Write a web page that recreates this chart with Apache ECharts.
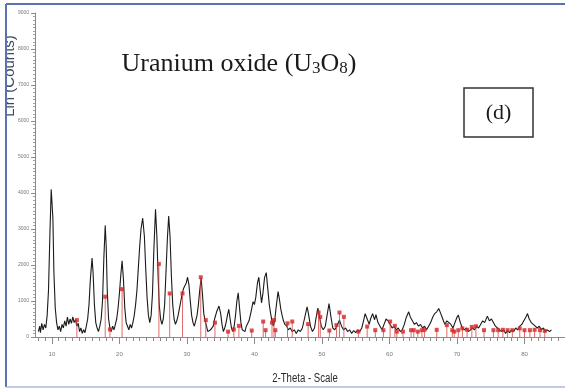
<!DOCTYPE html>
<html>
<head>
<meta charset="utf-8">
<script src="https://cdn.jsdelivr.net/npm/echarts@6/dist/echarts.min.js"></script>
<style>
  html, body { margin: 0; padding: 0; background: #fff; }
  #chart { width: 565px; height: 389px; }
</style>
</head>
<body>
<div id="chart"></div>
<script>
// Measured XRD pattern: 2-theta (deg) and intensity (counts)
const twoTheta = [
  8.0, 8.2, 8.3, 8.5, 8.7, 8.9, 9.1, 9.3, 9.5, 9.7, 9.9, 10.0, 10.15, 10.3, 10.5, 10.7, 10.9,
  11.1, 11.3, 11.5, 11.7, 11.9, 12.1, 12.3, 12.5, 12.7, 12.9, 13.1, 13.3, 13.5, 13.7, 13.9,
  14.1, 14.3, 14.5, 14.7, 14.9, 15.1, 15.3, 15.5, 15.7, 15.95, 16.1, 16.3, 16.5, 16.7, 16.9,
  17.1, 17.3, 17.5, 17.7, 17.9, 18.05, 18.2, 18.4, 18.6, 18.8, 19.0, 19.2, 19.4, 19.6, 19.8,
  20.0, 20.2, 20.4, 20.6, 20.8, 21.0, 21.2, 21.4, 21.6, 21.8, 22.0, 22.2, 22.4, 22.6, 22.8,
  23.0, 23.2, 23.45, 23.7, 23.9, 24.1, 24.3, 24.5, 24.7, 24.9, 25.1, 25.35, 25.55, 25.75, 25.9,
  26.1, 26.3, 26.5, 26.7, 26.9, 27.1, 27.3, 27.5, 27.7, 27.9, 28.1, 28.3, 28.5, 28.7, 28.9,
  29.1, 29.3, 29.5, 29.7, 29.9, 30.1, 30.3, 30.5, 30.7, 30.9, 31.1, 31.3, 31.5, 31.7, 31.9,
  32.1, 32.3, 32.5, 32.7, 32.9, 33.1, 33.3, 33.5, 33.7, 33.9, 34.1, 34.4, 34.75, 35.0, 35.2,
  35.4, 35.6, 35.8, 36.0, 36.2, 36.4, 36.6, 36.8, 37.0, 37.2, 37.4, 37.6, 37.8, 38.0, 38.2,
  38.4, 38.6, 38.8, 39.0, 39.2, 39.5, 39.8, 40.0, 40.2, 40.45, 40.65, 40.85, 41.05, 41.25, 41.5,
  41.75, 41.95, 42.2, 42.4, 42.6, 42.8, 43.0, 43.2, 43.5, 43.7, 43.9, 44.1, 44.3, 44.5, 44.8,
  45.0, 45.3, 45.6, 45.9, 46.2, 46.5, 46.8, 47.1, 47.4, 47.8, 48.0, 48.3, 48.6, 48.9, 49.1,
  49.4, 49.6, 49.9, 50.2, 50.5, 50.8, 51.05, 51.3, 51.6, 51.9, 52.2, 52.6, 52.9, 53.2, 53.5,
  53.8, 54.1, 54.4, 54.7, 55.0, 55.3, 55.6, 55.9, 56.1, 56.4, 56.7, 57.0, 57.2, 57.5, 57.8,
  58.0, 58.3, 58.6, 58.9, 59.2, 59.5, 59.8, 60.1, 60.4, 60.7, 61.0, 61.3, 61.6, 61.9, 62.2,
  62.5, 62.85, 63.1, 63.4, 63.7, 64.0, 64.3, 64.6, 64.9, 65.2, 65.5, 65.8, 66.1, 66.4, 66.7,
  67.0, 67.3, 67.6, 67.9, 68.2, 68.5, 68.8, 69.1, 69.4, 69.7, 70.0, 70.2, 70.5, 70.8, 71.1,
  71.4, 71.7, 72.0, 72.3, 72.6, 72.9, 73.2, 73.5, 73.8, 74.1, 74.5, 74.8, 75.1, 75.4, 75.7,
  76.0, 76.3, 76.6, 76.9, 77.2, 77.5, 77.8, 78.1, 78.4, 78.7, 79.0, 79.3, 79.6, 79.9, 80.2,
  80.45, 80.7, 81.0, 81.3, 81.6, 81.9, 82.2, 82.5, 82.8, 83.1, 83.4, 83.7, 84.0
];
const counts = [
  150, 300, 120, 380, 200, 350, 250, 600, 1300, 2800, 4100, 4130, 3300, 1800, 800, 400, 200,
  300, 150, 350, 250, 450, 300, 550, 350, 500, 380, 560, 400, 480, 300, 380,
  150, 250, 100, 200, 120, 300, 500, 900, 1600, 2190, 1800, 900, 400, 250, 150,
  300, 500, 1000, 2200, 3100, 2500, 1300, 500, 250, 150, 300, 200, 350, 500, 800,
  1200, 1700, 2120, 1600, 800, 400, 300, 200, 350, 250, 400, 600, 900, 1300, 1900,
  2500, 3000, 3300, 2800, 1900, 1100, 600, 400, 600, 1200, 2400, 3550, 2800, 1600, 900,
  500, 350, 500, 900, 1800, 2700, 3360, 2800, 1700, 900, 500, 350, 450, 600, 800,
  1000, 1200, 1350, 1300, 1500, 1660, 1450, 1000, 600, 400, 300, 450, 600, 900, 1300,
  1640, 1200, 650, 450, 300, 150, 100, 200, 150, 300, 500, 700, 860, 650, 350,
  150, 250, 400, 600, 770, 500, 250, 150, 300, 600, 1000, 1230, 800, 400, 200,
  250, 150, 300, 250, 450, 700, 980, 900, 1100, 1500, 1660, 1300, 950, 1200, 1650,
  1790, 1400, 900, 650, 450, 300, 450, 800, 1260, 1050, 780, 600, 450, 350, 300,
  200, 250, 150, 200, 100, 200, 150, 250, 500, 840, 650, 300, 150, 250, 500,
  800, 600, 300, 200, 300, 650, 930, 600, 250, 200, 300, 470, 300, 200, 250,
  150, 200, 100, 180, 120, 200, 150, 250, 400, 650, 500, 350, 500, 650, 480,
  620, 400, 300, 200, 350, 500, 450, 350, 250, 300, 200, 250, 150, 200, 350,
  550, 700, 550, 450, 350, 400, 300, 350, 250, 300, 200, 300, 400, 550, 650,
  700, 790, 650, 500, 350, 450, 400, 350, 250, 400, 550, 610, 400, 250, 200,
  250, 150, 200, 250, 200, 300, 250, 350, 450, 400, 580, 450, 500, 400, 300,
  250, 200, 150, 200, 100, 180, 120, 200, 150, 250, 200, 300, 350, 450, 550,
  650, 500, 400, 350, 300, 250, 300, 200, 250, 150, 200, 150, 200
];

// Reference U3O8 stick pattern
const refTheta = [
  13.7, 17.9, 18.6, 20.4, 25.85, 27.45, 29.35, 32.05, 32.8, 34.15, 36.1, 36.95, 37.7, 39.6,
  41.3, 41.65, 42.6, 42.9, 43.1, 44.9, 45.6, 47.95, 49.5, 49.75, 51.1, 52.15, 52.6, 53.25,
  55.4, 56.7, 57.9, 59.1, 60.1, 60.8, 61.1, 62.0, 63.2, 63.6, 64.2, 64.8, 65.2, 67.0, 68.5,
  69.3, 69.6, 70.2, 70.8, 71.5, 72.2, 72.8, 74.0, 75.4, 76.1, 76.8, 77.5, 78.2, 79.3, 80.0,
  80.8, 81.5, 82.3, 83.0
];
const refIntensity = [
  470, 1120, 210, 1330, 2030, 1210, 1210, 1660, 470, 400, 150, 210, 310, 180,
  430, 190, 400, 470, 190, 380, 430, 360, 680, 560, 180, 330, 680, 560,
  150, 290, 190, 190, 430, 310, 150, 150, 190, 190, 150, 190, 200, 200, 330,
  190, 150, 190, 240, 200, 280, 300, 190, 190, 190, 200, 190, 190, 240, 190,
  190, 200, 190, 170
];

// Axis ticks
const xMajorTicks = [10, 20, 30, 40, 50, 60, 70, 80];
const xMinorTicks = [8, 9, 11, 12, 13, 14, 15, 16, 17, 18, 19, 21, 22, 23, 24, 25, 26, 27, 28, 29,
  31, 32, 33, 34, 35, 36, 37, 38, 39, 41, 42, 43, 44, 45, 46, 47, 48, 49, 51, 52, 53, 54, 55, 56,
  57, 58, 59, 61, 62, 63, 64, 65, 66, 67, 68, 69, 71, 72, 73, 74, 75, 76, 77, 78, 79, 81, 82, 83,
  84, 85];

const pattern = twoTheta.map((t, i) => [t, counts[i]]);
const sticks = refTheta.map((t, i) => [t, refIntensity[i]]);

const X_MIN = 7.5, X_MAX = 86;
const axisGrey = '#8a8a8a';

const chart = echarts.init(document.getElementById('chart'), null, { renderer: 'canvas' });

chart.setOption({
  backgroundColor: '#ffffff',
  animation: false,
  grid: { left: 35, top: 13, height: 324, width: (X_MAX - X_MIN) * 6.914 },
  xAxis: [
    {
      type: 'value', min: X_MIN, max: X_MAX,
      axisLine: { onZero: false, lineStyle: { color: axisGrey, width: 1 } },
      axisTick: { customValues: xMajorTicks, length: 7, lineStyle: { color: axisGrey } },
      axisLabel: { customValues: xMajorTicks, fontSize: 6, color: '#777', margin: 14 },
      splitLine: { show: false }
    },
    {
      type: 'value', min: X_MIN, max: X_MAX, position: 'bottom',
      axisLine: { show: false },
      axisTick: { customValues: xMinorTicks, length: 4, lineStyle: { color: axisGrey } },
      axisLabel: { show: false },
      splitLine: { show: false }
    }
  ],
  yAxis: {
    type: 'value', min: 0, max: 9000, interval: 1000,
    axisLine: { show: true, lineStyle: { color: axisGrey, width: 1 } },
    axisTick: { show: true, length: 4, lineStyle: { color: axisGrey } },
    minorTick: { show: true, splitNumber: 10, length: 2, lineStyle: { color: '#a0a0a0' } },
    axisLabel: { fontSize: 5, color: '#777', margin: 6, formatter: v => String(v) },
    splitLine: { show: false }
  },
  series: [
    {
      type: 'line', data: pattern, xAxisIndex: 0, symbol: 'none',
      lineStyle: { color: '#1a1a1a', width: 1.1 }, z: 2
    },
    {
      type: 'bar', data: sticks, xAxisIndex: 0, barWidth: 1,
      itemStyle: { color: 'rgba(215,70,70,0.8)' }, z: 3
    },
    {
      type: 'scatter', data: sticks, xAxisIndex: 0, symbol: 'rect', symbolSize: 4,
      itemStyle: { color: '#d42424' }, z: 4
    }
  ],
  graphic: [
    {
      type: 'text', x: 17, y: 76, rotation: Math.PI / 2,
      style: {
        text: 'Lin (Counts)', fontSize: 15, fontFamily: 'Liberation Sans, sans-serif',
        fill: '#3b4a68', align: 'center', verticalAlign: 'bottom'
      }, z: 10
    },
    { type: 'rect', shape: { x: 0, y: 0, width: 6, height: 389 }, style: { fill: '#ffffff' }, z: 11 },
    { type: 'rect', shape: { x: 0, y: 0, width: 565, height: 3 }, style: { fill: '#ffffff' }, z: 11 },
    { type: 'line', shape: { x1: 6, y1: 4, x2: 565, y2: 4 }, style: { stroke: '#5a72ad', lineWidth: 2 }, z: 12 },
    { type: 'line', shape: { x1: 6, y1: 4, x2: 6, y2: 387 }, style: { stroke: '#5a72ad', lineWidth: 2 }, z: 12 },
    { type: 'line', shape: { x1: 6, y1: 387, x2: 565, y2: 387 }, style: { stroke: '#a9bbdd', lineWidth: 1.5 }, z: 12 },
    {
      // x-axis title, drawn condensed
      type: 'text', x: 305, y: 379, scaleX: 0.8,
      style: {
        text: '2-Theta - Scale', fontSize: 12, fontFamily: 'Liberation Sans, sans-serif',
        fill: '#2a2a2a', align: 'center', verticalAlign: 'middle'
      }, z: 10
    },
    {
      type: 'text', x: 239, y: 64,
      style: {
        text: '{m|Uranium oxide (U}{s|3}{m|O}{s|8}{m|)}',
        rich: {
          m: { fontFamily: 'Liberation Serif, serif', fontSize: 26, fill: '#1a1a1a' },
          s: { fontFamily: 'Liberation Serif, serif', fontSize: 17, fill: '#1a1a1a', padding: [10, 0, 0, 0] }
        },
        align: 'center', verticalAlign: 'middle'
      }, z: 10
    },
    {
      type: 'rect', shape: { x: 464, y: 88, width: 69, height: 49 },
      style: { fill: '#ffffff', stroke: '#333', lineWidth: 1.5 }, z: 10
    },
    {
      type: 'text', x: 498.5, y: 113,
      style: { text: '(d)', fontFamily: 'Liberation Serif, serif', fontSize: 22, fill: '#1a1a1a', align: 'center', verticalAlign: 'middle' },
      z: 11
    }
  ]
});
</script>
</body>
</html>
